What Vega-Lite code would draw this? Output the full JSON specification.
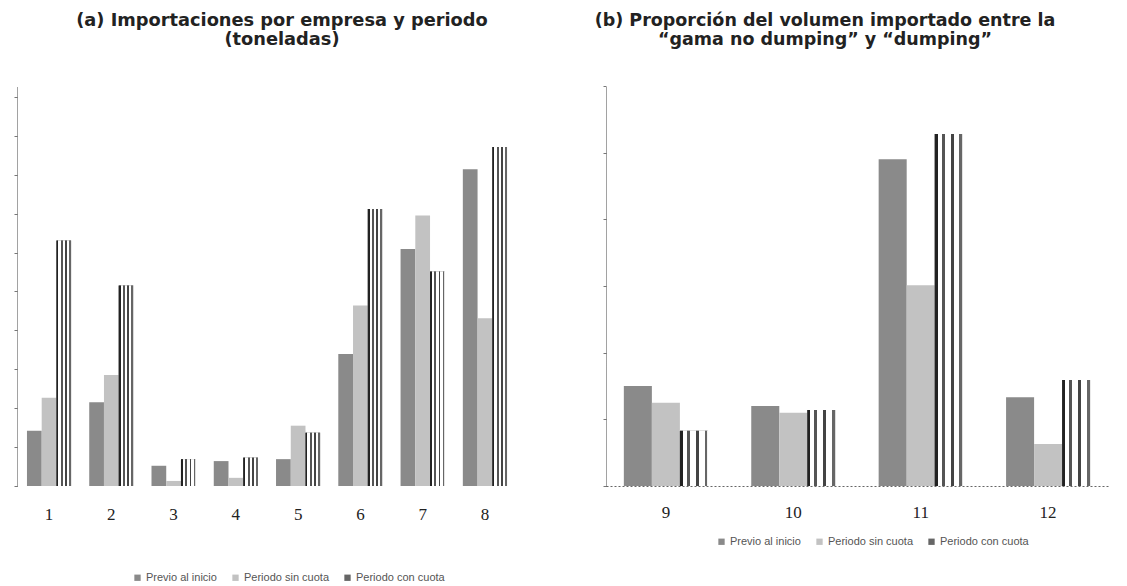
{
  "$schema": "https://vega.github.io/schema/vega-lite/v6.json",
  "padding": {"left": 13, "top": 12, "right": 5, "bottom": 3},
  "background": "white",
  "config": {
    "view": {"stroke": null},
    "font": "Liberation Sans",
    "concat": {"spacing": 77}
  },
  "datasets": {
    "a": [
      {"empresa": "1", "periodo": "Previo al inicio", "valor": 1.42},
      {"empresa": "1", "periodo": "Periodo sin cuota", "valor": 2.27},
      {"empresa": "1", "periodo": "Periodo con cuota", "valor": 6.31},
      {"empresa": "2", "periodo": "Previo al inicio", "valor": 2.15},
      {"empresa": "2", "periodo": "Periodo sin cuota", "valor": 2.85},
      {"empresa": "2", "periodo": "Periodo con cuota", "valor": 5.15},
      {"empresa": "3", "periodo": "Previo al inicio", "valor": 0.52},
      {"empresa": "3", "periodo": "Periodo sin cuota", "valor": 0.13},
      {"empresa": "3", "periodo": "Periodo con cuota", "valor": 0.69},
      {"empresa": "4", "periodo": "Previo al inicio", "valor": 0.64},
      {"empresa": "4", "periodo": "Periodo sin cuota", "valor": 0.21},
      {"empresa": "4", "periodo": "Periodo con cuota", "valor": 0.73},
      {"empresa": "5", "periodo": "Previo al inicio", "valor": 0.69},
      {"empresa": "5", "periodo": "Periodo sin cuota", "valor": 1.55},
      {"empresa": "5", "periodo": "Periodo con cuota", "valor": 1.37},
      {"empresa": "6", "periodo": "Previo al inicio", "valor": 3.39},
      {"empresa": "6", "periodo": "Periodo sin cuota", "valor": 4.64},
      {"empresa": "6", "periodo": "Periodo con cuota", "valor": 7.12},
      {"empresa": "7", "periodo": "Previo al inicio", "valor": 6.09},
      {"empresa": "7", "periodo": "Periodo sin cuota", "valor": 6.95},
      {"empresa": "7", "periodo": "Periodo con cuota", "valor": 5.51},
      {"empresa": "8", "periodo": "Previo al inicio", "valor": 8.14},
      {"empresa": "8", "periodo": "Periodo sin cuota", "valor": 4.31},
      {"empresa": "8", "periodo": "Periodo con cuota", "valor": 8.71}
    ],
    "b": [
      {"empresa": "9", "periodo": "Previo al inicio", "valor": 1.5},
      {"empresa": "9", "periodo": "Periodo sin cuota", "valor": 1.25},
      {"empresa": "9", "periodo": "Periodo con cuota", "valor": 0.83},
      {"empresa": "10", "periodo": "Previo al inicio", "valor": 1.2},
      {"empresa": "10", "periodo": "Periodo sin cuota", "valor": 1.1},
      {"empresa": "10", "periodo": "Periodo con cuota", "valor": 1.14},
      {"empresa": "11", "periodo": "Previo al inicio", "valor": 4.9},
      {"empresa": "11", "periodo": "Periodo sin cuota", "valor": 3.01},
      {"empresa": "11", "periodo": "Periodo con cuota", "valor": 5.28},
      {"empresa": "12", "periodo": "Previo al inicio", "valor": 1.33},
      {"empresa": "12", "periodo": "Periodo sin cuota", "valor": 0.63},
      {"empresa": "12", "periodo": "Periodo con cuota", "valor": 1.59}
    ]
  },
  "hconcat": [
    {
      "title": {
        "text": ["(a) Importaciones por empresa y periodo", "(toneladas)"],
        "fontSize": 17.8, "fontWeight": "bold", "font": "DejaVu Sans",
        "color": "#222", "lineHeight": 19, "offset": 37, "dx": 15
      },
      "width": 500,
      "height": 400,
      "data": {"name": "a"},
      "encoding": {
        "x": {
          "field": "empresa", "type": "ordinal",
          "sort": ["1", "2", "3", "4", "5", "6", "7", "8"],
          "scale": {"paddingInner": 0.29, "paddingOuter": 0.16},
          "axis": {"title": null, "labelAngle": 0, "domain": false, "ticks": false,
                   "labelFont": "Liberation Serif", "labelFontSize": 17, "labelPadding": 20, "labelColor": "#222"}
        },
        "xOffset": {
          "field": "periodo", "type": "nominal",
          "scale": {"domain": ["Previo al inicio", "Periodo sin cuota", "Periodo con cuota"]}
        },
        "y": {
          "field": "valor", "type": "quantitative",
          "scale": {"domain": [0, 10.28], "nice": false},
          "axis": {"title": null, "labels": false, "grid": false,
                   "values": [0, 1, 2, 3, 4, 5, 6, 7, 8, 9, 10],
                   "tickSize": 3, "tickColor": "#777", "domainColor": "#444", "domainDash": [1, 1]}
        }
      },
      "layer": [
        {
          "mark": {"type": "bar"},
          "encoding": {
            "fill": {
              "field": "periodo", "type": "nominal",
              "scale": {"domain": ["Previo al inicio", "Periodo sin cuota", "Periodo con cuota"],
                        "range": ["#8a8a8a", "#c2c2c2", "#666666"]},
              "legend": {"orient": "none", "legendX": 115, "legendY": 486, "direction": "horizontal", "title": null,
                         "labelFontSize": 11, "labelColor": "#555", "symbolType": "square",
                         "symbolSize": 40, "columnPadding": 13, "labelOffset": 3}
            }
          }
        },
        {
          "transform": [{"filter": "datum.periodo === 'Periodo con cuota'"}],
          "mark": {
            "type": "bar",
            "fill": {
              "gradient": "linear", "x1": 0, "y1": 0, "x2": 1, "y2": 0,
              "stops": [
                {"offset": 0, "color": "#222"}, {"offset": 0.13, "color": "#222"},
                {"offset": 0.13, "color": "#ffffff"}, {"offset": 0.3, "color": "#ffffff"},
                {"offset": 0.3, "color": "#555"}, {"offset": 0.43, "color": "#555"},
                {"offset": 0.43, "color": "#ffffff"}, {"offset": 0.58, "color": "#ffffff"},
                {"offset": 0.58, "color": "#444"}, {"offset": 0.71, "color": "#444"},
                {"offset": 0.71, "color": "#ffffff"}, {"offset": 0.86, "color": "#ffffff"},
                {"offset": 0.86, "color": "#666"}, {"offset": 0.97, "color": "#666"},
                {"offset": 0.97, "color": "#ffffff"}, {"offset": 1, "color": "#ffffff"}
              ]
            }
          }
        }
      ]
    },
    {
      "title": {
        "text": ["(b) Proporción del volumen importado entre la", "“gama no dumping” y “dumping”"],
        "fontSize": 17.5, "fontWeight": "bold", "font": "DejaVu Sans",
        "color": "#222", "lineHeight": 19, "offset": 37, "dx": -32
      },
      "width": 502,
      "height": 400,
      "data": {"name": "b"},
      "encoding": {
        "x": {
          "field": "empresa", "type": "ordinal",
          "sort": ["9", "10", "11", "12"],
          "scale": {"paddingInner": 0.34, "paddingOuter": 0.14},
          "axis": {"title": null, "labelAngle": 0, "domain": true, "domainColor": "#666", "domainDash": [2, 2],
                   "ticks": false,
                   "labelFont": "Liberation Serif", "labelFontSize": 17, "labelPadding": 18, "labelColor": "#222"}
        },
        "xOffset": {
          "field": "periodo", "type": "nominal",
          "scale": {"domain": ["Previo al inicio", "Periodo sin cuota", "Periodo con cuota"]}
        },
        "y": {
          "field": "valor", "type": "quantitative",
          "scale": {"domain": [0, 6], "nice": false},
          "axis": {"title": null, "labels": false, "grid": false,
                   "values": [0, 1, 2, 3, 4, 5, 6],
                   "tickSize": 3, "tickColor": "#777", "domainColor": "#444", "domainDash": [1, 1]}
        }
      },
      "layer": [
        {
          "mark": {"type": "bar"},
          "encoding": {
            "fill": {
              "field": "periodo", "type": "nominal",
              "scale": {"domain": ["Previo al inicio", "Periodo sin cuota", "Periodo con cuota"],
                        "range": ["#8a8a8a", "#c2c2c2", "#666666"]},
              "legend": {"orient": "none", "legendX": 110, "legendY": 450, "direction": "horizontal", "title": null,
                         "labelFontSize": 11, "labelColor": "#555", "symbolType": "square",
                         "symbolSize": 40, "columnPadding": 13, "labelOffset": 3}
            }
          }
        },
        {
          "transform": [{"filter": "datum.periodo === 'Periodo con cuota'"}],
          "mark": {
            "type": "bar",
            "fill": {
              "gradient": "linear", "x1": 0, "y1": 0, "x2": 1, "y2": 0,
              "stops": [
                {"offset": 0, "color": "#222"}, {"offset": 0.1, "color": "#222"},
                {"offset": 0.1, "color": "#ffffff"}, {"offset": 0.25, "color": "#ffffff"},
                {"offset": 0.25, "color": "#555"}, {"offset": 0.36, "color": "#555"},
                {"offset": 0.36, "color": "#ffffff"}, {"offset": 0.57, "color": "#ffffff"},
                {"offset": 0.57, "color": "#444"}, {"offset": 0.67, "color": "#444"},
                {"offset": 0.67, "color": "#ffffff"}, {"offset": 0.88, "color": "#ffffff"},
                {"offset": 0.88, "color": "#666"}, {"offset": 0.98, "color": "#666"},
                {"offset": 0.98, "color": "#ffffff"}, {"offset": 1, "color": "#ffffff"}
              ]
            }
          }
        }
      ]
    }
  ],
  "resolve": {"scale": {"fill": "independent", "xOffset": "independent", "x": "independent", "y": "independent"}}
}
